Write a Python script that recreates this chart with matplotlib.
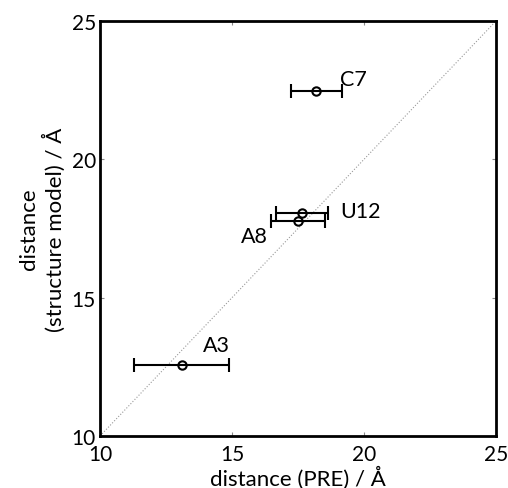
import matplotlib
matplotlib.use('Agg')
import matplotlib.pyplot as plt

plt.rcParams['font.family'] = ['Lato', 'DejaVu Sans']

labels = ['A3', 'C7', 'A8', 'U12']
pre_dist = [13.1, 18.2, 17.5, 17.65]
pre_err = [1.8, 0.98, 1.04, 0.97]
model_dist = [12.57, 22.47, 17.77, 18.06]

# label placement relative to each point, in pixels
offsets = {'A3': (21, 20, 'left'), 'C7': (24, 12, 'left'),
           'A8': (-30, -15, 'right'), 'U12': (38, 2, 'left')}

fig = plt.figure(figsize=(5.08, 4.89), dpi=100)
ax = fig.add_axes([100 / 508, 52 / 489, 396 / 508, 415 / 489])

ax.plot([10, 25], [10, 25], ls=':', color='#999999', lw=0.8)
ax.errorbar(pre_dist, model_dist, xerr=pre_err, fmt='o', mfc='none', mec='k',
            mew=1.5, ms=6, ecolor='k', elinewidth=1.5, capsize=5, capthick=1.5)

for lab, x, y in zip(labels, pre_dist, model_dist):
    dx, dy, ha = offsets[lab]
    ax.annotate(lab, (x, y), xytext=(dx, dy), textcoords='offset pixels',
                ha=ha, va='center', fontsize=15.5)

ax.set_xlim(10, 25)
ax.set_ylim(10, 25)
ax.set_xticks([10, 15, 20, 25])
ax.set_yticks([10, 15, 20, 25])
ax.tick_params(direction='in', labelsize=15, top=True, right=True,
               length=3, width=0.8, color='#888888', labelcolor='k')
ax.tick_params(axis='x', pad=6)
ax.tick_params(axis='y', pad=3)
for s in ax.spines.values():
    s.set_linewidth(2)

ax.set_xlabel('distance (PRE) / Å', fontsize=16, labelpad=1)
ax.set_ylabel('distance\n(structure model) / Å', fontsize=16, labelpad=4)

fig.savefig('out.png', dpi=100)
